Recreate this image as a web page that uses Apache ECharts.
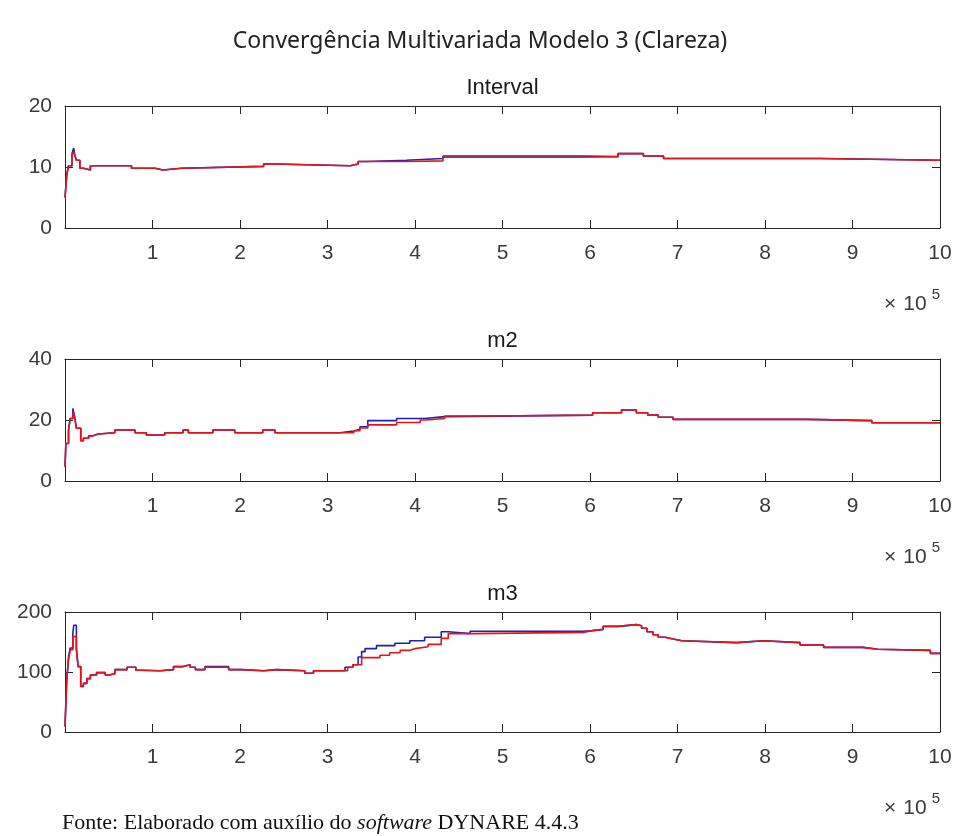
<!DOCTYPE html>
<html>
<head>
<meta charset="utf-8">
<script src="https://cdn.jsdelivr.net/npm/echarts@6/dist/echarts.min.js"></script>
<style>html,body{margin:0;padding:0;background:#fff}#c{width:960px;height:836px}</style>
</head>
<body>
<div id="c"></div>
<script>
// x values in units of 10^5 draws
const xTicks = [1,2,3,4,5,6,7,8,9,10];
const panelTitles = ['Interval', 'm2', 'm3'];
const mainTitle = 'Convergência Multivariada Modelo 3 (Clareza)';

const intervalRed = [[0,5.0],[0.01,6.8],[0.02,8.7],[0.04,10.2],[0.08,12.0],[0.1,12.5],[0.11,12.0],[0.13,11.1],[0.17,9.8],[0.21,9.5],[0.29,10.2],[0.76,9.8],[1.03,9.5],[1.12,9.8],[1.33,10.1],[2.27,10.5],[2.4,10.2],[3.26,10.5],[3.35,10.9],[3.45,10.9],[3.9,11.0],[4.32,11.6],[5.89,11.7],[6.32,12.2],[6.61,11.8],[6.84,11.4],[8.63,11.1],[10,11.1]];
const intervalBlue = [[0,5.0],[0.01,6.8],[0.02,8.7],[0.04,10.2],[0.08,12.2],[0.1,13.1],[0.11,12.0],[0.13,11.1],[0.17,9.8],[0.21,9.5],[0.29,10.2],[0.76,9.8],[1.03,9.5],[1.12,9.8],[1.33,10.1],[2.27,10.5],[2.4,10.2],[3.26,10.5],[3.35,10.9],[3.45,11.1],[3.9,11.4],[4.32,11.8],[5.89,11.7],[6.32,12.2],[6.61,11.8],[6.84,11.4],[8.63,11.1],[10,11.1]];

const m2Red = [[0,4.7],[0.01,12.3],[0.04,16.7],[0.06,20.5],[0.09,22.5],[0.11,21.0],[0.13,17.3],[0.18,13.2],[0.21,14.0],[0.27,14.8],[0.32,15.4],[0.38,15.8],[0.57,16.7],[0.8,15.8],[0.93,15.1],[1.14,15.8],[1.35,16.7],[1.41,15.8],[1.69,16.7],[1.94,15.8],[2.26,16.7],[2.4,15.8],[3.24,15.8],[3.3,16.5],[3.37,17.4],[3.46,18.4],[3.79,19.2],[4.06,20.0],[4.13,20.5],[4.34,21.3],[4.89,21.6],[6.03,22.4],[6.36,23.3],[6.53,22.4],[6.66,21.6],[6.78,20.9],[6.95,20.2],[8.49,19.8],[9.22,19.1],[10,19.1]];
const m2Blue = [[0,4.7],[0.01,12.3],[0.04,16.7],[0.06,20.5],[0.09,23.8],[0.11,21.0],[0.13,17.3],[0.18,13.2],[0.21,14.0],[0.27,14.8],[0.32,15.4],[0.38,15.8],[0.57,16.7],[0.8,15.8],[0.93,15.1],[1.14,15.8],[1.35,16.7],[1.41,15.8],[1.69,16.7],[1.94,15.8],[2.26,16.7],[2.4,15.8],[3.14,16.4],[3.3,17.0],[3.37,17.8],[3.46,19.8],[3.79,20.5],[4.11,21.1],[4.34,21.6],[6.03,22.4],[6.36,23.3],[6.53,22.4],[6.66,21.6],[6.78,20.9],[6.95,20.2],[8.49,19.8],[9.22,19.1],[10,19.1]];

const m3Red = [[0,9],[0.01,48],[0.02,87],[0.04,120],[0.06,137],[0.09,159],[0.13,137],[0.15,109],[0.18,76],[0.21,81],[0.25,89],[0.29,95],[0.36,99],[0.46,95],[0.5,97],[0.57,104],[0.71,108],[0.81,103],[0.86,102],[1.09,104],[1.24,109],[1.35,112],[1.43,108],[1.49,104],[1.6,108],[1.87,104],[2.02,102],[2.27,104],[2.42,102],[2.74,98],[2.84,102],[3.2,102],[3.23,108],[3.29,112],[3.39,124],[3.6,128],[3.71,132],[3.83,136],[3.94,139],[4.0,142],[4.15,146],[4.3,156],[4.38,164],[4.65,166],[5.92,169],[6.03,171],[6.15,176],[6.32,179],[6.53,177],[6.59,173],[6.65,167],[6.72,162],[6.78,158],[6.86,155],[6.95,152],[7.05,149],[7.68,152],[7.98,149],[8.4,145],[8.67,141],[9.12,138],[9.29,136],[9.89,131],[10,131]];
const m3Blue = [[0,9],[0.01,48],[0.02,87],[0.04,125],[0.06,140],[0.09,165],[0.1,178],[0.13,140],[0.15,109],[0.18,76],[0.21,81],[0.25,89],[0.29,95],[0.36,99],[0.46,95],[0.5,97],[0.57,104],[0.71,108],[0.81,103],[0.86,102],[1.09,104],[1.24,109],[1.35,112],[1.43,108],[1.49,104],[1.6,109],[1.87,104],[2.02,102],[2.27,104],[2.42,102],[2.74,98],[2.84,102],[3.2,108],[3.29,112],[3.35,125],[3.39,134],[3.43,139],[3.56,144],[3.77,148],[3.94,152],[4.11,158],[4.3,167],[4.38,164],[4.63,168],[5.92,169],[6.03,171],[6.15,176],[6.32,179],[6.53,177],[6.59,173],[6.65,167],[6.72,162],[6.78,158],[6.86,155],[6.95,152],[7.05,149],[7.68,152],[7.98,149],[8.4,145],[8.67,141],[9.12,138],[9.29,136],[9.89,131],[10,131]];

const yRanges = [[0,20,10],[0,40,20],[0,200,100]];
const blueSeries = [intervalBlue, m2Blue, m3Blue];
const redSeries = [intervalRed, m2Red, m3Red];

const axisColor = '#262626';
const labelColor = '#3a3a3a';
const labelFont = 'Liberation Sans, Arial, sans-serif';
const grids = [
  {left:65, right:20, top:106, height:122},
  {left:65, right:20, top:359, height:122},
  {left:65, right:20, top:612, height:120}
];

const xAxes = [], yAxes = [], series = [], graphics = [];
graphics.push({type:'text', x:480, y:41, silent:true, style:{text:mainTitle, align:'center', verticalAlign:'middle',
  font:'normal 23px "Noto Sans", sans-serif', fill:'#222'}});
grids.forEach((g, i) => {
  const common = {gridIndex:i, type:'value', min:0, max:10, interval:1,
    axisLine:{show:true, onZero:false, lineStyle:{color:axisColor, width:1}},
    axisTick:{show:true, inside:true, length:8, lineStyle:{color:axisColor}},
    splitLine:{show:false}};
  xAxes.push(Object.assign({}, common, {position:'bottom',
    axisLabel:{show:true, margin:15, color:labelColor, fontSize:21, fontFamily:labelFont,
      formatter: v => (xTicks.indexOf(v) >= 0 ? String(v) : '')}}));
  xAxes.push(Object.assign({}, common, {position:'top', axisLabel:{show:false}}));
  const [ymin, ymax, yint] = yRanges[i];
  const ycommon = {gridIndex:i, type:'value', min:ymin, max:ymax, interval:yint,
    axisLine:{show:true, onZero:false, lineStyle:{color:axisColor, width:1}},
    axisTick:{show:true, inside:true, length:8, lineStyle:{color:axisColor}},
    splitLine:{show:false}};
  yAxes.push(Object.assign({}, ycommon, {position:'left',
    axisLabel:{show:true, margin:13, color:labelColor, fontSize:21, fontFamily:labelFont}}));
  yAxes.push(Object.assign({}, ycommon, {position:'right', axisLabel:{show:false}}));
  series.push({type:'line', xAxisIndex:2*i, yAxisIndex:2*i, data:blueSeries[i], step:'end',
    showSymbol:false, lineStyle:{color:'#1f1fb0', width:1.6}, silent:true, z:2});
  series.push({type:'line', xAxisIndex:2*i, yAxisIndex:2*i, data:redSeries[i], step:'end',
    showSymbol:false, lineStyle:{color:'#e3141c', width:1.6}, silent:true, z:3});
  const cx = g.left + (960 - g.left - g.right) / 2;
  graphics.push({type:'text', x:cx, y:g.top - 18, silent:true, style:{text:panelTitles[i], align:'center', verticalAlign:'middle',
    font:'normal 22px "Liberation Sans", Arial, sans-serif', fill:'#1a1a1a'}});
  graphics.push({type:'text', x:940, y:g.top + g.height + 73, silent:true, style:{
    text:'{x|×}{n|10}{s|5}', align:'right', verticalAlign:'middle',
    rich:{
      x:{font:'normal 21px "Liberation Sans", Arial, sans-serif', fill:labelColor, padding:[0,7,0,0], verticalAlign:'bottom'},
      n:{font:'normal 21px "Liberation Sans", Arial, sans-serif', fill:labelColor, padding:[0,5,0,0], verticalAlign:'bottom'},
      s:{font:'normal 15px "Liberation Sans", Arial, sans-serif', fill:labelColor, verticalAlign:'top', padding:[0,0,13,0]}
    }}});
});
graphics.push({type:'text', x:62, y:823, silent:true, style:{
  text:'Fonte: Elaborado com auxílio do {i|software} DYNARE 4.4.3', align:'left', verticalAlign:'middle',
  font:'normal 22px "Liberation Serif", "Times New Roman", serif', fill:'#111',
  rich:{i:{font:'italic 22px "Liberation Serif", "Times New Roman", serif', fill:'#111'}}}});

const chart = echarts.init(document.getElementById('c'), null, {renderer:'canvas'});
chart.setOption({
  animation:false,
  backgroundColor:'#fff',
  grid:grids,
  xAxis:xAxes,
  yAxis:yAxes,
  series:series,
  graphic:graphics
});
</script>
</body>
</html>
